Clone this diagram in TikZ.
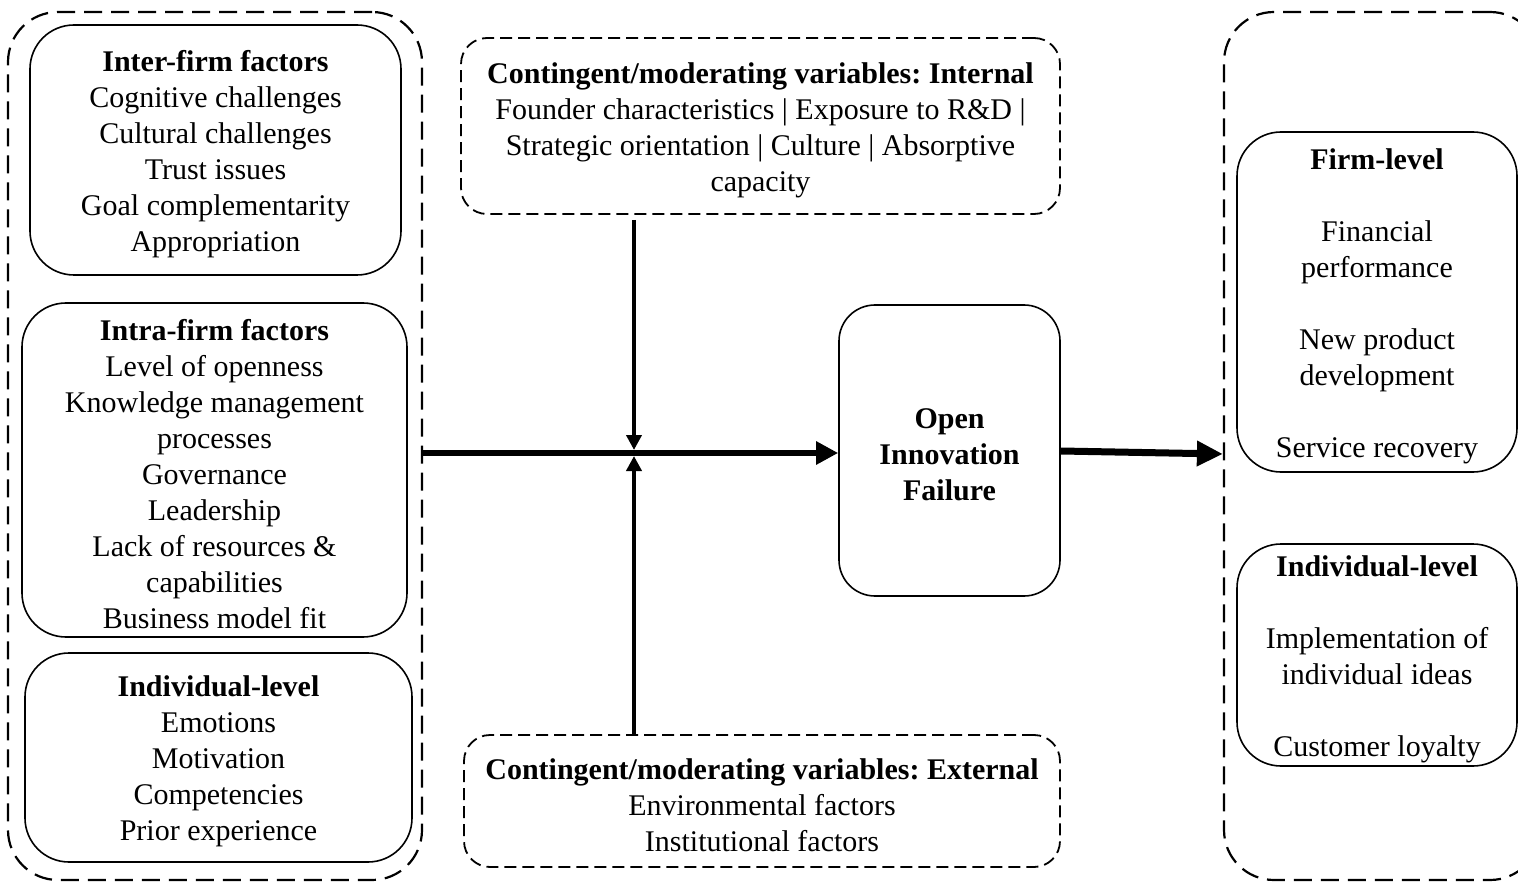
\documentclass[tikz,border=0pt]{standalone}
\usepackage{fontspec}
\setmainfont{Liberation Serif}
\usetikzlibrary{arrows.meta,calc}
\frenchspacing
% extra room above the first line, so each text block sits a little lower
\newcommand{\firstline}{\rule{0pt}{29pt}}
\begin{document}
\begin{tikzpicture}[x=1pt,y=-1pt,
  txt/.style={font=\fontsize{30}{36}\selectfont, align=center, inner sep=0pt},
  solidbox/.style={txt, draw, line width=1.6pt, rounded corners=44pt},
  dashbox/.style={txt, draw, line width=2.2pt, dash pattern=on 18pt off 9pt},
  outerbox/.style={dashbox, rounded corners=50pt},
  modbox/.style={dashbox, line width=1.8pt, dash pattern=on 12pt off 6pt, rounded corners=26pt},
  mainarrow/.style={line width=6pt, -{Triangle[length=22pt,width=22pt]}},
  modarrow/.style={line width=4pt, -{Triangle[length=15pt,width=15pt]}},
  outarrow/.style={line width=7pt, -{Triangle[length=26pt,width=24pt]}}
]
\useasboundingbox (0,0) rectangle (1518,882);

% left group of antecedents
\node[outerbox, minimum width=414pt, minimum height=868pt] (leftouter) at (215,446) {};
\node[solidbox, minimum width=371pt, minimum height=250pt] (inter) at (215.5,150)
  {\firstline\textbf{Inter-firm factors}\\Cognitive challenges\\Cultural challenges\\Trust issues\\Goal complementarity\\Appropriation};
\node[solidbox, minimum width=385pt, minimum height=334pt] (intra) at (214.5,470)
  {\firstline\textbf{Intra-firm factors}\\Level of openness\\Knowledge management\\processes\\Governance\\Leadership\\Lack of resources \&\\capabilities\\Business model fit};
\node[solidbox, minimum width=387pt, minimum height=209pt] (indivL) at (218.5,757.5)
  {\firstline\textbf{Individual-level}\\Emotions\\Motivation\\Competencies\\Prior experience};

% moderators
\node[modbox, minimum width=599pt, minimum height=176pt] (internal) at (760.5,126)
  {\firstline\textbf{Contingent/moderating variables: Internal}\\Founder characteristics | Exposure to R\&D |\\Strategic orientation | Culture | Absorptive\\capacity};
\node[modbox, minimum width=596pt, minimum height=132pt] (external) at (762,801)
  {\firstline\textbf{Contingent/moderating variables: External}\\Environmental factors\\Institutional factors};

% central construct
\node[solidbox, rounded corners=36pt, minimum width=221pt, minimum height=291pt] (oif) at (949.5,450.5)
  {\firstline\textbf{Open}\\\textbf{Innovation}\\\textbf{Failure}};

% right group of outcomes
\node[outerbox, minimum width=316pt, minimum height=868pt] (rightouter) at (1382,446) {};
\node[solidbox, minimum width=280pt, minimum height=340pt] (firm) at (1377,302)
  {\firstline\textbf{Firm-level}\\[36pt]Financial\\performance\\[36pt]New product\\development\\[36pt]Service recovery};
\node[solidbox, minimum width=280pt, minimum height=222pt] (indivR) at (1377,655)
  {\firstline\textbf{Individual-level}\\[36pt]Implementation of\\individual ideas\\[36pt]Customer loyalty};

% connectors
\coordinate (hub) at (634,453);
\draw[mainarrow] (leftouter.east |- hub) -- (oif.west |- hub);
\draw[modarrow] ($(hub |- internal.south)+(0,5)$) -- ($(hub)+(0,-3)$);
\draw[modarrow] (hub |- external.north) -- ($(hub)+(0,3)$);
\draw[outarrow] (oif.east |- 0,451) -- (rightouter.west |- 0,454);
\end{tikzpicture}
\end{document}
